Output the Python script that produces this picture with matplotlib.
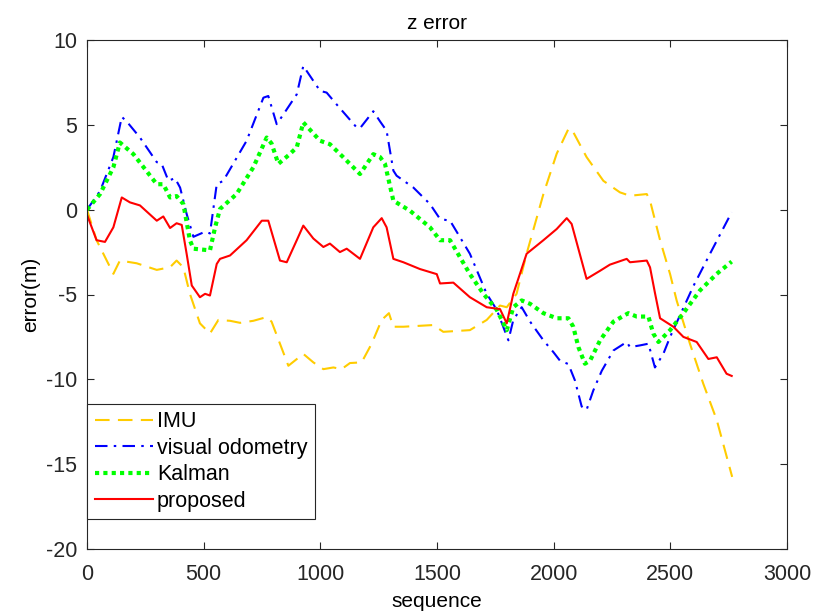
import numpy as np
import matplotlib
matplotlib.use('Agg')
import matplotlib.pyplot as plt

plt.rcParams['font.family'] = ['Liberation Sans', 'DejaVu Sans']
plt.rcParams['axes.unicode_minus'] = False

# IMU
imu_x = [0, 41, 113, 141, 213, 299, 356, 384, 413, 441, 484, 527, 563, 613, 656, 713,
         770, 791, 827, 863, 927, 970, 1013, 1056, 1091, 1127, 1177, 1220, 1263, 1294,
         1313, 1356, 1484, 1527, 1641, 1713, 1770, 1799, 1841, 1884, 1956, 2013, 2063,
         2077, 2141, 2213, 2284, 2327, 2399, 2413, 2456, 2499, 2527, 2584, 2641, 2699, 2765]
imu_y = [0, -1.8, -3.78, -3.0, -3.16, -3.55, -3.39, -3.0, -3.4, -4.96, -6.7, -7.3, -6.5,
         -6.55, -6.67, -6.55, -6.33, -6.6, -7.9, -9.2, -8.5, -9.0, -9.4, -9.3, -9.4, -9.04,
         -9.0, -7.9, -6.5, -6.1, -6.9, -6.9, -6.8, -7.2, -7.1, -6.5, -5.65, -5.75, -4.96,
         -2.6, 0.92, 3.3, 4.75, 4.75, 3.1, 1.7, 1.02, 0.82, 0.92, 0.53, -1.8, -3.8, -5.35,
         -7.9, -10.25, -12.4, -15.75]

# visual odometry
vo_x = [0, 56, 113, 149, 170, 227, 299, 320, 349, 377, 399, 427, 456, 506, 527, 556, 584,
        684, 756, 777, 813, 841, 899, 927, 999, 1027, 1070, 1156, 1170, 1227, 1256, 1284,
        1313, 1327, 1399, 1470, 1513, 1556, 1641, 1713, 1756, 1806, 1827, 1863, 1899, 1956,
        1999, 2027, 2063, 2091, 2120, 2141, 2170, 2206, 2256, 2313, 2327, 2370, 2406, 2434,
        2470, 2499, 2599, 2670, 2763]
vo_y = [0, 1.1, 3.1, 5.47, 5.2, 4.25, 2.8, 2.7, 1.7, 1.86, 1.3, -0.25, -1.6, -1.3, -1.4,
        1.5, 1.7, 4.06, 6.6, 6.7, 5.04, 5.6, 6.8, 8.47, 7.0, 6.9, 6.2, 4.84, 4.8, 5.8, 5.2,
        4.65, 2.3, 2.0, 1.3, 0.33, -0.55, -0.65, -2.6, -4.96, -5.9, -7.7, -6.5, -5.75, -6.6,
        -7.7, -8.4, -8.9, -9.1, -10.06, -11.6, -11.8, -10.65, -9.5, -8.3, -7.8, -8.1, -8.0,
        -7.9, -9.3, -8.5, -7.5, -4.5, -2.6, -0.15]

# Kalman
kf_x = [0, 56, 113, 141, 199, 299, 327, 356, 384, 413, 441, 456, 527, 549, 570, 641, 713,
        770, 791, 820, 863, 899, 927, 999, 1041, 1099, 1170, 1227, 1256, 1277, 1313, 1384,
        1470, 1513, 1556, 1641, 1699, 1756, 1799, 1827, 1863, 1899, 1956, 2013, 2063, 2084,
        2106, 2134, 2156, 2199, 2256, 2320, 2356, 2406, 2427, 2449, 2499, 2556, 2627, 2699, 2763]
kf_y = [0, 0.92, 2.5, 3.96, 3.27, 1.5, 1.5, 0.72, 0.8, 0.33, -1.8, -2.3, -2.4, -1.04, 0.04,
        0.92, 2.5, 4.25, 3.9, 2.7, 3.2, 3.67, 5.14, 4.06, 3.86, 3.08, 2.1, 3.27, 3.1, 2.7,
        0.53, -0.06, -1.04, -1.8, -1.8, -3.8, -4.96, -5.9, -7.1, -5.75, -5.35, -5.55, -6.1,
        -6.4, -6.4, -6.9, -8.1, -9.08, -8.9, -7.7, -6.6, -6.1, -6.3, -6.3, -7.3, -7.8, -7.1,
        -6.1, -4.76, -3.78, -3.06]

# proposed
pr_x = [0, 41, 77, 113, 149, 184, 227, 299, 327, 356, 384, 406, 427, 449, 484, 506, 527,
        556, 570, 613, 684, 749, 777, 827, 856, 899, 927, 970, 1013, 1041, 1084, 1113, 1170,
        1227, 1263, 1284, 1313, 1356, 1427, 1499, 1513, 1570, 1641, 1713, 1770, 1799, 1827,
        1884, 1956, 2013, 2056, 2077, 2141, 2199, 2241, 2313, 2327, 2399, 2413, 2434, 2456,
        2513, 2556, 2613, 2663, 2699, 2741, 2763]
pr_y = [-0.3, -1.8, -1.9, -1.04, 0.72, 0.43, 0.25, -0.65, -0.4, -1.08, -0.8, -0.9, -2.6,
        -4.47, -5.16, -4.96, -5.06, -3.2, -2.9, -2.7, -1.8, -0.65, -0.65, -3.0, -3.1, -1.8,
        -0.94, -1.7, -2.2, -2.0, -2.5, -2.3, -2.9, -1.04, -0.5, -1.04, -2.9, -3.1, -3.5, -3.8,
        -4.35, -4.3, -5.16, -5.75, -5.86, -6.7, -4.96, -2.6, -1.8, -1.14, -0.5, -0.84, -4.08,
        -3.6, -3.24, -2.9, -3.1, -3.0, -3.4, -4.9, -6.4, -6.9, -7.5, -7.8, -8.8, -8.7, -9.67, -9.8]

labels = ['IMU', 'visual odometry', 'Kalman', 'proposed']

fig = plt.figure(figsize=(8.16, 6.12), dpi=100)
ax = fig.add_axes([87/816, 1-549/612, 700/816, 509/612])

ax.plot(imu_x, imu_y, color='#FFCC00', lw=1.5, dashes=(7, 4), label=labels[0])
ax.plot(vo_x, vo_y, color='#0000FF', lw=1.5, dashes=(6, 3, 1.2, 3), label=labels[1])
ax.plot(kf_x, kf_y, color='#00FF00', lw=3, dashes=(1, 1), label=labels[2])
ax.plot(pr_x, pr_y, color='#FF0000', lw=1.5, label=labels[3])

ax.set_xlim(0, 3000)
ax.set_ylim(-20, 10)
ax.set_xticks(np.arange(0, 3001, 500))
ax.set_yticks(np.arange(-20, 11, 5))
ax.tick_params(direction='in', top=True, right=True, length=5, width=0.8,
               labelsize=15.5, colors='#262626')
ax.tick_params(axis='x', pad=11)
ax.tick_params(axis='y', pad=7)
for s in ax.spines.values():
    s.set_color('#262626')
    s.set_linewidth(0.8)

ax.set_title('z error', fontsize=15, pad=8)
ax.set_xlabel('sequence', fontsize=15, labelpad=5)
ax.set_ylabel('error(m)', fontsize=15, labelpad=4)

leg = ax.legend(loc='upper left', bbox_to_anchor=(0, 0.285), borderaxespad=0,
                fontsize=15.5, fancybox=False, framealpha=1, handlelength=2.7,
                handletextpad=0.2, labelspacing=0.25, borderpad=0.35)
leg.get_frame().set_edgecolor('#262626')
leg.get_frame().set_linewidth(0.8)

fig.savefig('out.png', dpi=100)
